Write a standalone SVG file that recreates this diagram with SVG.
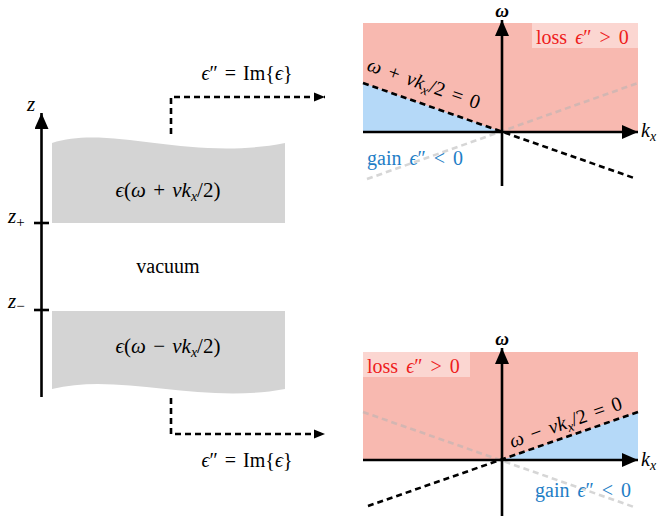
<svg xmlns="http://www.w3.org/2000/svg" width="658" height="516" viewBox="0 0 658 516">
<defs>
<marker id="ah" markerUnits="userSpaceOnUse" markerWidth="18" markerHeight="14" refX="16" refY="7" orient="auto"><path d="M0,0 L16,7 L0,14 Z" fill="#000"/></marker>
<marker id="ahs" markerUnits="userSpaceOnUse" markerWidth="12" markerHeight="10" refX="11" refY="5" orient="auto"><path d="M0,0.5 L11,5 L0,9.5 Z" fill="#000"/></marker>
</defs>
<style>
.m{font-family:"Liberation Serif","DejaVu Serif",serif;fill:#000;word-spacing:2px}
.i{font-style:italic}
.ax{stroke:#000;stroke-width:2.6;fill:none}
.dash{stroke:#000;stroke-width:2.6;stroke-dasharray:6 4;fill:none}
.gdash{stroke:#b4b4b4;stroke-opacity:0.55;stroke-width:2.6;stroke-dasharray:6 4;fill:none}
.slab{fill:#d4d4d4}
.pink{fill:#f8b9b0}
.blue{fill:#b5d9f8}
.lbg{fill:#fbd6d1}
.red{fill:#ee1c1c}
.bl{fill:#1f7ec6}
</style>

<g id="z-axis">
<line class="ax" x1="41.5" y1="397" x2="41.5" y2="113" marker-end="url(#ah)"/>
<line class="ax" x1="34" y1="223" x2="49" y2="223"/>
<line class="ax" x1="34" y1="310" x2="49" y2="310"/>
<text class="m i" x="31" y="111" font-size="21" text-anchor="middle">z</text>
<text class="m i" x="8" y="223" font-size="21">z<tspan font-size="15" dy="4" font-style="normal">+</tspan></text>
<text class="m i" x="8" y="308" font-size="21">z<tspan font-size="15" dy="3" font-style="normal">−</tspan></text>
</g>

<g id="slab-upper">
<path class="slab" d="M52,143 C 110,124 190,162 285,143 L285,223 L52,223 Z"/>
<text class="m" x="168" y="197" font-size="21" text-anchor="middle" style="word-spacing:2px"><tspan class="i">ϵ</tspan>(<tspan class="i">ω</tspan> + <tspan class="i">vk</tspan><tspan class="i" font-size="14" dy="4">x</tspan><tspan dy="-4">/2)</tspan></text>
</g>

<g id="vacuum">
<text class="m" x="168" y="273" font-size="20" text-anchor="middle">vacuum</text>
</g>

<g id="slab-lower">
<path class="slab" d="M52,311 L285,311 L285,389 C 200,405 120,372 52,389 Z"/>
<text class="m" x="168" y="353" font-size="21" text-anchor="middle" style="word-spacing:2px"><tspan class="i">ϵ</tspan>(<tspan class="i">ω</tspan> − <tspan class="i">vk</tspan><tspan class="i" font-size="14" dy="4">x</tspan><tspan dy="-4">/2)</tspan></text>
</g>

<g id="connectors">
<polyline class="dash" points="171,134 171,97 325,97" marker-end="url(#ahs)"/>
<polyline class="dash" points="171,398 171,434 325,434" marker-end="url(#ahs)"/>
<text class="m" x="247" y="80" font-size="20" text-anchor="middle" style="word-spacing:2px"><tspan class="i">ϵ</tspan>″ = Im{<tspan class="i">ϵ</tspan>}</text>
<text class="m" x="247" y="467" font-size="20" text-anchor="middle" style="word-spacing:2px"><tspan class="i">ϵ</tspan>″ = Im{<tspan class="i">ϵ</tspan>}</text>
</g>

<g id="plot-upper">
<rect class="pink" x="363" y="23" width="275" height="109"/>
<polygon class="blue" points="363,83 502,132 363,132"/>
<rect class="lbg" x="532" y="23" width="106" height="25"/>
<line class="gdash" x1="367" y1="179" x2="638" y2="83"/>
<line class="dash" x1="363" y1="83" x2="634" y2="178"/>
<line class="ax" x1="502" y1="186" x2="502" y2="20" marker-end="url(#ah)"/>
<line class="ax" x1="363" y1="132" x2="638" y2="132" marker-end="url(#ah)"/>
<text class="m i" x="502" y="17" font-size="19" text-anchor="middle" font-weight="bold">ω</text>
<text class="m i" x="641" y="137" font-size="20">k<tspan font-size="14" dy="4">x</tspan></text>
<text class="m red" x="536" y="44" font-size="20" style="word-spacing:3px">loss <tspan class="i">ϵ</tspan>″ &gt; 0</text>
<text class="m bl" x="367" y="165" font-size="20" style="word-spacing:3px">gain <tspan class="i">ϵ</tspan>″ &lt; 0</text>
<text class="m" font-size="20" style="word-spacing:3px" transform="translate(366,70) rotate(19.4)"><tspan class="i">ω</tspan> + <tspan class="i">vk</tspan><tspan class="i" font-size="14" dy="4">x</tspan><tspan dy="-4">/2 = 0</tspan></text>
</g>

<g id="plot-lower">
<rect class="pink" x="363" y="352" width="275" height="108"/>
<polygon class="blue" points="502,460 638,460 638,412"/>
<rect class="lbg" x="363" y="352" width="107" height="25"/>
<line class="gdash" x1="363" y1="412" x2="634" y2="507"/>
<line class="dash" x1="638" y1="412" x2="368" y2="506"/>
<line class="ax" x1="502" y1="516" x2="502" y2="348" marker-end="url(#ah)"/>
<line class="ax" x1="363" y1="460" x2="638" y2="460" marker-end="url(#ah)"/>
<text class="m i" x="502" y="345" font-size="19" text-anchor="middle" font-weight="bold">ω</text>
<text class="m i" x="641" y="466" font-size="20">k<tspan font-size="14" dy="4">x</tspan></text>
<text class="m red" x="367" y="373" font-size="20" style="word-spacing:3px">loss <tspan class="i">ϵ</tspan>″ &gt; 0</text>
<text class="m bl" x="535" y="497" font-size="20" style="word-spacing:3px">gain <tspan class="i">ϵ</tspan>″ &lt; 0</text>
<text class="m" font-size="20" style="word-spacing:3px" transform="translate(512,448) rotate(-19.4)"><tspan class="i">ω</tspan> − <tspan class="i">vk</tspan><tspan class="i" font-size="14" dy="4">x</tspan><tspan dy="-4">/2 = 0</tspan></text>
</g>
</svg>
